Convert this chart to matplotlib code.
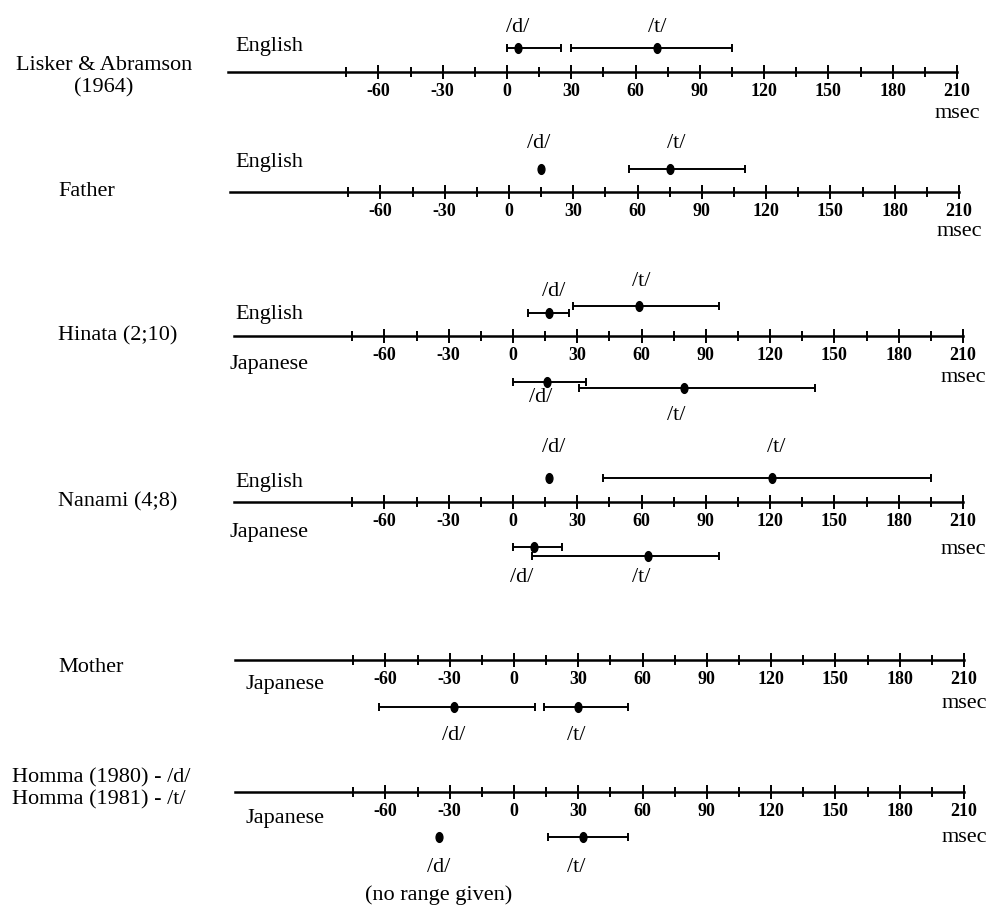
import matplotlib
matplotlib.use('Agg')
import matplotlib.pyplot as plt
from matplotlib.markers import MarkerStyle
from matplotlib.transforms import Affine2D
from matplotlib.ticker import FixedLocator
import numpy as np

plt.rcParams['font.family'] = ['Liberation Serif', 'DejaVu Serif']

W, H = 992, 911

# ── Data (VOT in msec) ──
panel_labels = ['Lisker & Abramson\n(1964)', 'Father', 'Hinata (2;10)',
                'Nanami (4;8)', 'Mother', 'Homma (1980) - /d/\nHomma (1981) - /t/']
lang_above = ['English', 'English', 'English', 'English', None, None]
lang_below = [None, None, 'Japanese', 'Japanese', 'Japanese', 'Japanese']

meas_panel = [0, 0, 1, 1, 2, 2, 2, 2, 3, 3, 3, 3, 4, 4, 5, 5]
meas_phon = ['/d/', '/t/'] * 8
meas_mean = [5, 70, 15, 75, 17, 59, 16, 80, 17, 121, 10, 63, -28, 30, -35, 32]
meas_lo = [0, 30, None, 56, 7, 28, 0, 31, None, 42, 0, 9, -63, 14, None, 16]
meas_hi = [25, 105, None, 110, 26, 96, 34, 141, None, 195, 23, 96, 10, 53, None, 53]

major_ticks = np.arange(-60, 211, 30)
minor_ticks = np.arange(-75, 196, 30)

# ── Layout (pixels) ──
AXIS_Y = [72, 192, 336, 502, 660, 792]
X0 = [507, 509, 513, 513, 514, 514]
PX_PER_MS = 2.143
LINE_START = -130
BAR_DY = [24, 24, 23, 23, 23, 30, -46, -52, 24, 24, -45, -54, -47, -47, -45, -45]
LAB_DY = [45, 45, 49, 49, 44, 54, -61, -79, 54, 54, -75, -75, -75, -75, -75, -75]
LAB_DX = [0, 0, -1, 3, 2, 1, -3, -4, 2, 2, -6, -3, 0, -1, 0, -3]
LANG_ABOVE_DY = [25, 29, 21, 20, 0, 0]
LANG_BELOW_DY = [0, 0, -29, -31, -25, -26]
LANG_BELOW_X = [0, 0, 229, 229, 246, 246]
MSEC_DY = [-42, -40, -42, -48, -43, -45]
FS = 16
BELOW, ABOVE = 110, 70

fig = plt.figure(figsize=(W / 100, H / 100), dpi=100)
fig.patch.set_facecolor('white')


def fx(px):
    return px / W


def fy(py):
    return 1 - py / H


dot = MarkerStyle('o', transform=Affine2D().scale(0.7, 1.0))

axes = []
for p in range(len(panel_labels)):
    ay = AXIS_Y[p]
    ax = fig.add_axes([0, (H - ay - BELOW) / H, 1, (BELOW + ABOVE) / H])
    ax.set_facecolor('none')
    ax.set_xlim(-X0[p] / PX_PER_MS, (W - X0[p]) / PX_PER_MS)
    ax.set_ylim(-BELOW, ABOVE)
    for s in ['top', 'left', 'right']:
        ax.spines[s].set_visible(False)
    ax.spines['bottom'].set_position(('data', 0))
    ax.spines['bottom'].set_bounds(LINE_START, 210)
    ax.spines['bottom'].set_linewidth(1.8)
    ax.yaxis.set_visible(False)
    ax.xaxis.set_major_locator(FixedLocator(major_ticks))
    ax.xaxis.set_minor_locator(FixedLocator(minor_ticks))
    ax.set_xticklabels([str(t) for t in major_ticks], fontweight='bold')
    ax.tick_params(axis='x', which='major', direction='inout', length=9.5,
                   width=1.4, labelsize=13, pad=3)
    ax.tick_params(axis='x', which='minor', direction='inout', length=7.5, width=1.4)
    axes.append(ax)

    # left-hand labels
    if p == 0:
        fig.text(fx(104), fy(ay + 5), panel_labels[p], ha='center', va='center',
                 fontsize=FS, linespacing=1.25)
    elif p == 5:
        fig.text(fx(12), fy(ay - 3), panel_labels[p], ha='left', va='center',
                 fontsize=FS, linespacing=1.2)
    else:
        fig.text(fx(58), fy(ay + (7 if p == 4 else 0)), panel_labels[p],
                 ha='left', va='center', fontsize=FS)

    if lang_above[p]:
        ax.text((235 - X0[p]) / PX_PER_MS, LANG_ABOVE_DY[p], lang_above[p],
                ha='left', va='center', fontsize=FS)
    if lang_below[p]:
        ax.text((LANG_BELOW_X[p] - X0[p]) / PX_PER_MS, LANG_BELOW_DY[p], lang_below[p],
                ha='left', va='center', fontsize=FS)
    ax.text(210, MSEC_DY[p], 'msec', ha='center', va='center', fontsize=FS)

# measurements
for i, p in enumerate(meas_panel):
    ax = axes[p]
    m = meas_mean[i]
    if meas_lo[i] is not None:
        ax.errorbar(m, BAR_DY[i], xerr=[[m - meas_lo[i]], [meas_hi[i] - m]],
                    fmt='none', ecolor='black', elinewidth=1.4, capsize=3, capthick=1.4)
    ax.plot(m, BAR_DY[i], marker=dot, markersize=7, color='black', linestyle='none')
    ax.text(m + LAB_DX[i], LAB_DY[i], meas_phon[i], ha='center', va='center', fontsize=FS)

axes[5].text(meas_mean[14], -103, '(no range given)', ha='center', va='center', fontsize=FS)

fig.savefig('out.png', dpi=100, facecolor='white')
